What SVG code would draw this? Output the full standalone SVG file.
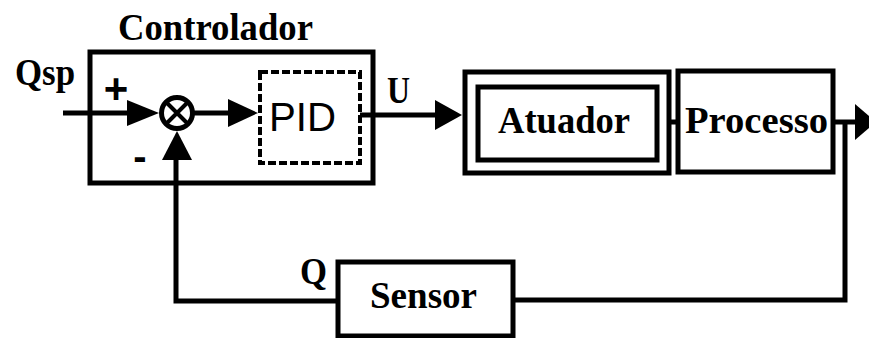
<svg xmlns="http://www.w3.org/2000/svg" width="869" height="338" viewBox="0 0 869 338">
<style>
.box{fill:none;stroke:#000;stroke-width:5}
.dash{fill:none;stroke:#000;stroke-width:4;stroke-dasharray:8 3}
.ln{fill:none;stroke:#000;stroke-width:5}
.ah{fill:#000;stroke:none}
.t{font-family:"Liberation Serif","Times New Roman",serif;font-weight:bold;font-size:37px;fill:#000}
.s{font-family:"Liberation Sans",Arial,sans-serif;fill:#000}
</style>
<rect width="869" height="338" fill="#fff"/>
<g id="controlador">
<rect class="box" x="90" y="52" width="283" height="131"/>
<text class="t" x="118" y="40" textLength="195" lengthAdjust="spacingAndGlyphs">Controlador</text>
</g>
<g id="somador">
<circle cx="177" cy="113" r="15.5" fill="#fff" stroke="#000" stroke-width="5"/>
<path d="M167 103 L187 123 M187 103 L167 123" stroke="#000" stroke-width="4"/>
<text class="s" x="116" y="103" font-size="42" font-weight="bold" text-anchor="middle">+</text>
<text class="s" x="140" y="170" font-size="40" font-weight="bold" text-anchor="middle">-</text>
</g>
<g id="pid">
<rect class="dash" x="260" y="72" width="100" height="91"/>
<text class="s" x="269" y="131" font-size="40" textLength="67" lengthAdjust="spacingAndGlyphs">PID</text>
</g>
<g id="atuador">
<rect class="box" x="465" y="72" width="204" height="101"/>
<rect class="box" x="478" y="87" width="179" height="73"/>
<text class="t" x="498" y="133" textLength="132" lengthAdjust="spacingAndGlyphs">Atuador</text>
</g>
<g id="processo">
<rect class="box" x="678" y="71" width="155" height="101"/>
<text class="t" x="685" y="133" textLength="143" lengthAdjust="spacingAndGlyphs">Processo</text>
</g>
<g id="sensor">
<rect class="box" x="338" y="262" width="175" height="74"/>
<text class="t" x="370" y="308" textLength="107" lengthAdjust="spacingAndGlyphs">Sensor</text>
</g>
<g id="labels">
<text class="t" x="15" y="85" textLength="60" lengthAdjust="spacingAndGlyphs">Qsp</text>
<text class="t" x="387" y="103" textLength="23" lengthAdjust="spacingAndGlyphs">U</text>
<text class="t" x="300" y="284" textLength="27" lengthAdjust="spacingAndGlyphs">Q</text>
</g>
<g id="connectors">
<path class="ln" d="M63 113 H132"/>
<polygon class="ah" points="127,100 159,113 127,126"/>
<path class="ln" d="M192 113 H232"/>
<polygon class="ah" points="228,99 258,113 228,127"/>
<path class="ln" d="M360 115 H438"/>
<polygon class="ah" points="435,100 462,115 435,130"/>
<path class="ln" d="M667 122 H680"/>
<path class="ln" d="M833 122 H858"/>
<polygon class="ah" points="855,104 876,122 855,140"/>
<path class="ln" d="M845 122 V300 H513"/>
<path class="ln" d="M338 301 H176 V156"/>
<polygon class="ah" points="162,160 177,131 192,160"/>
</g>
</svg>
